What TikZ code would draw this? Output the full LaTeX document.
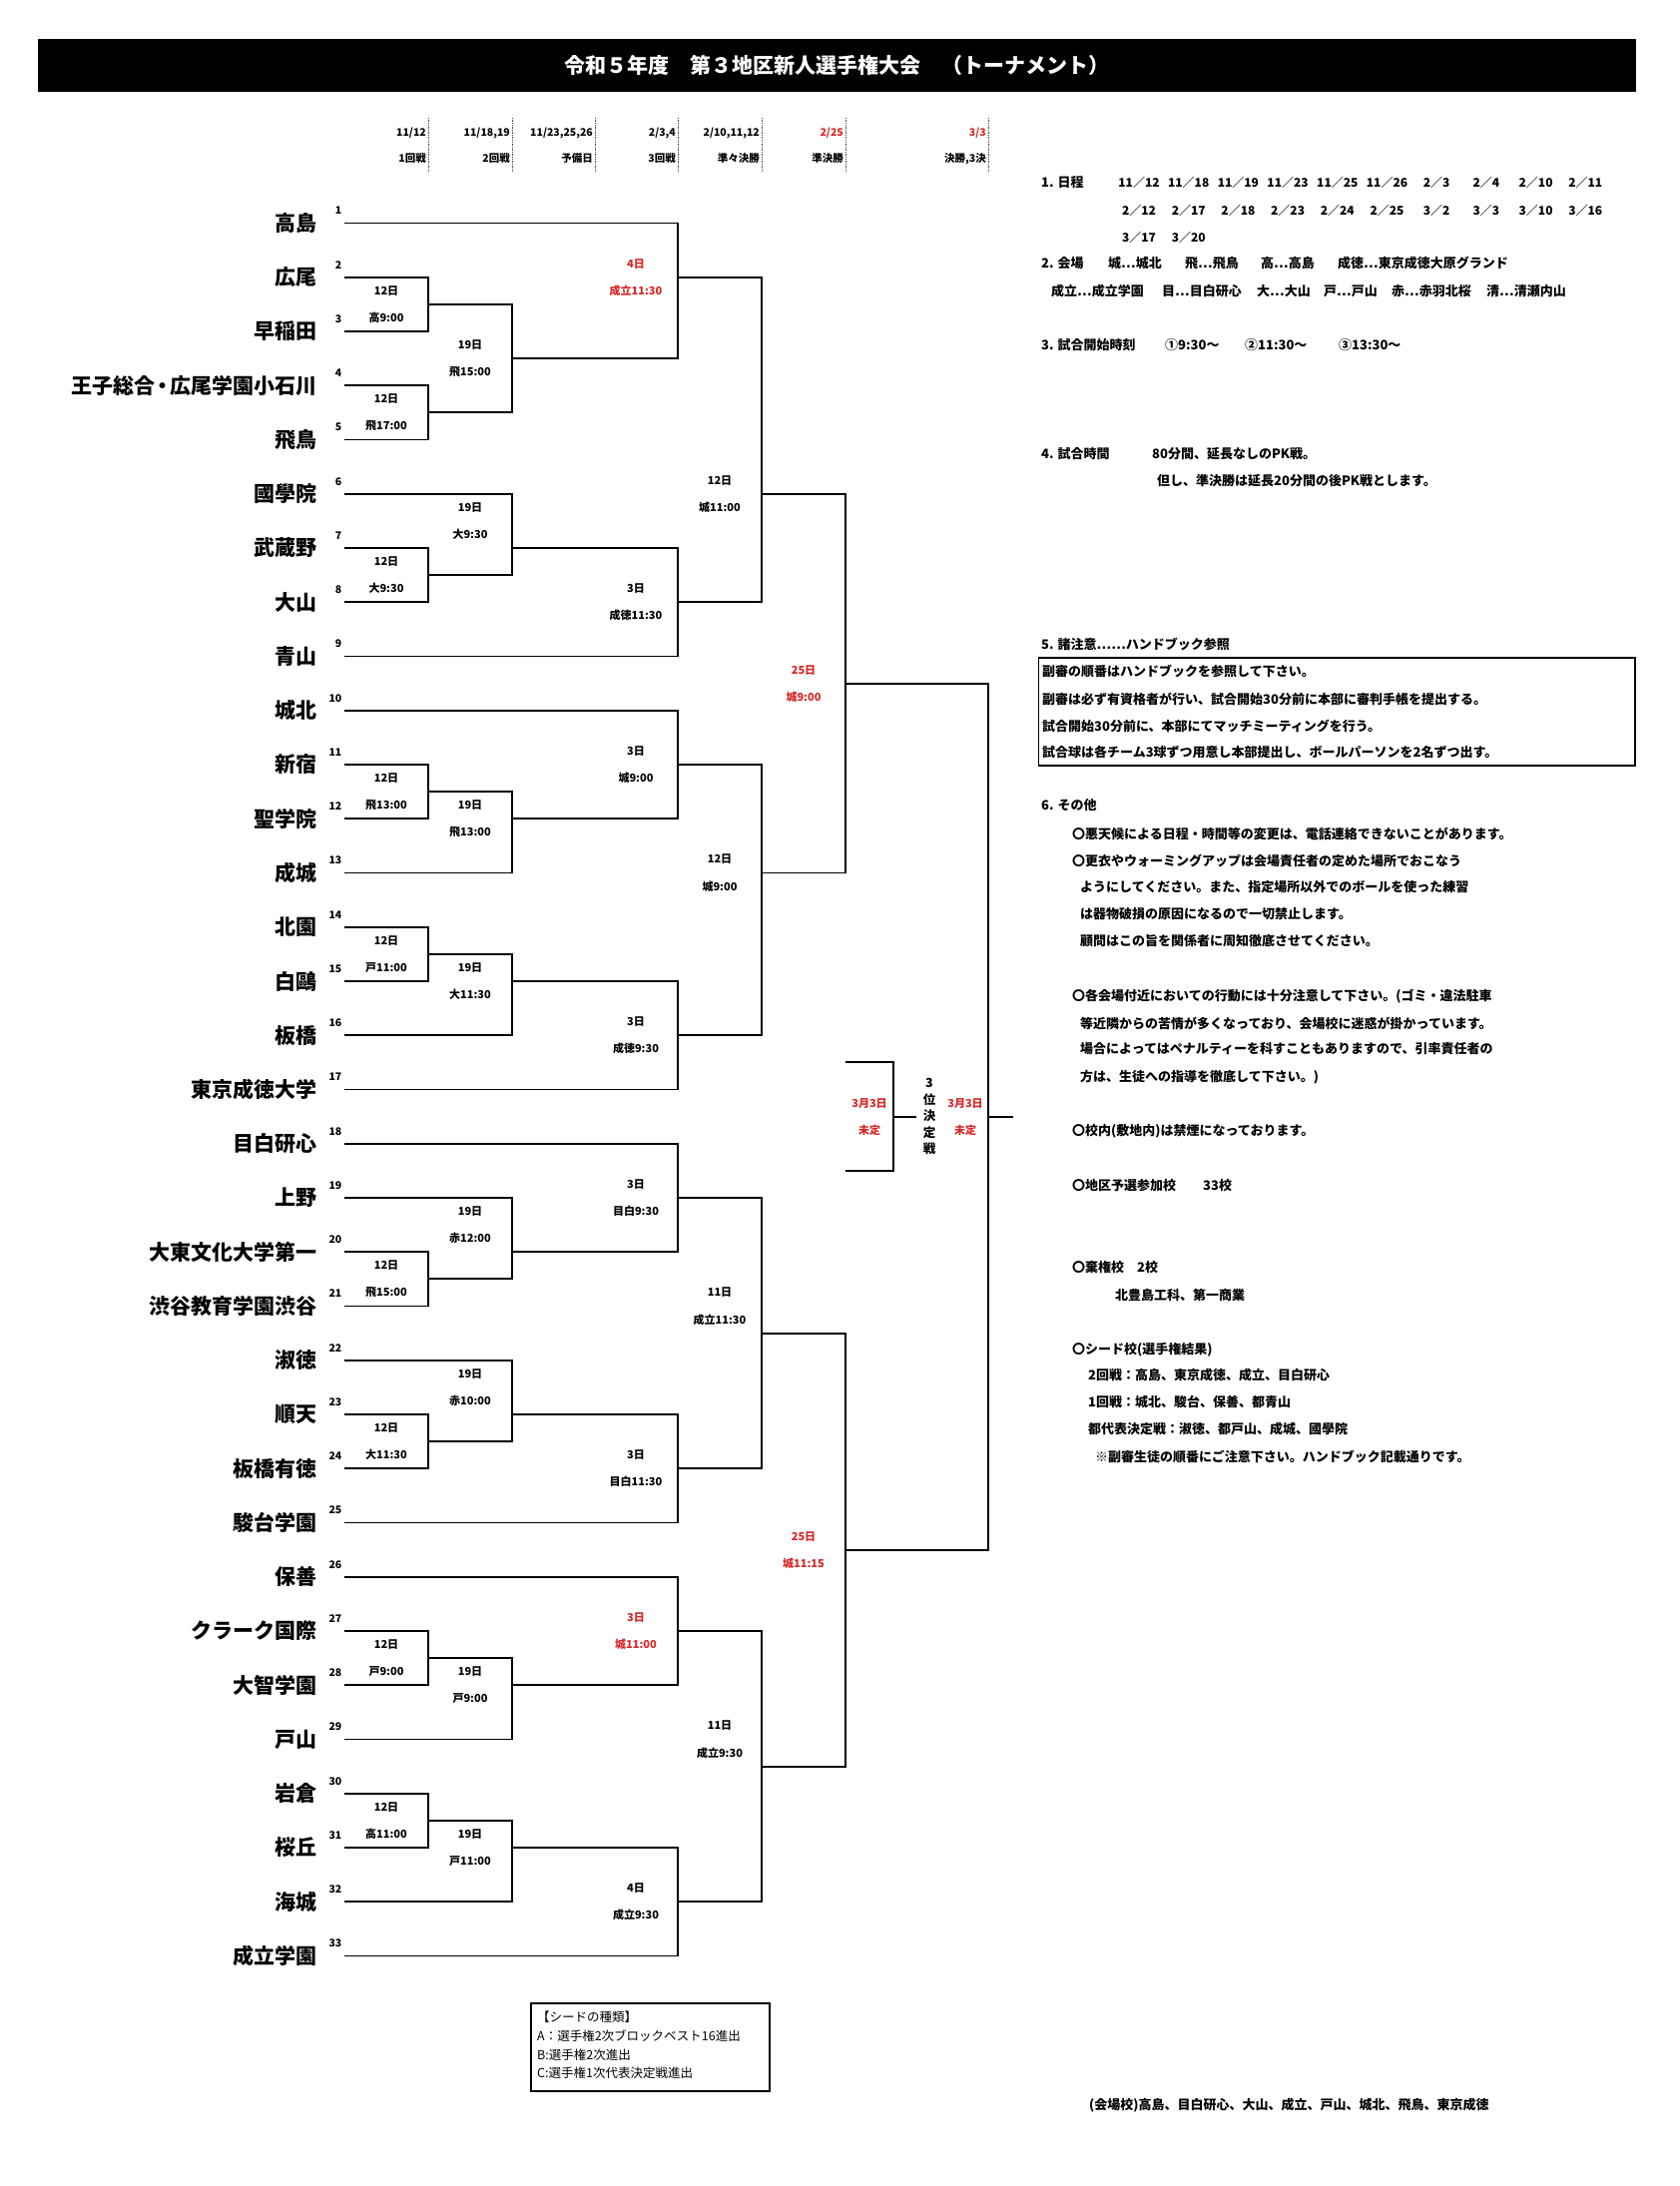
\documentclass[tikz,border=0pt]{standalone}
\usepackage{fontspec}
\setmainfont{Noto Sans CJK JP}
\definecolor{rd}{RGB}{216,38,38}
\pgfmathdeclarefunction{ry}{1}{\pgfmathparse{223.5+(#1-1)*54.25}}
\newcounter{lbc}
\tikzset{
  br/.style={line width=1.9pt, line join=miter},
  team/.style={anchor=east, inner sep=0pt, font=\bfseries\fontsize{21}{21}\selectfont},
  num/.style={anchor=east, inner sep=0pt, font=\bfseries\fontsize{10.5}{10.5}\selectfont},
  lab/.style={inner sep=0pt, font=\bfseries\fontsize{11}{11}\selectfont},
  hd/.style={anchor=east, inner sep=0pt, font=\bfseries\fontsize{10.5}{10.5}\selectfont},
  tx/.style={anchor=west, inner sep=0pt, font=\bfseries\fontsize{13}{13}\selectfont},
  dt/.style={inner sep=0pt, font=\bfseries\fontsize{12}{12}\selectfont},
  sd/.style={anchor=west, inner sep=0pt, font=\fontsize{12.5}{12.5}\selectfont},
  dots/.style={densely dotted, line width=0.7pt, black!70}
}
% match bracket: top start x, top row, bottom start x, bottom row, vertical x
\newcommand\mt[5]{\draw[br] (#1,{ry(#2)}) -- (#5,{ry(#2)}) -- (#5,{ry(#4)}) -- (#3,{ry(#4)});}
% two-line match label: x, row, line1, line2, colour
\newcommand\lb[5]{\stepcounter{lbc}%
  \node[lab,text=#5] (lb\thelbc a) at (#1,{ry(#2)-13.5}) {#3};
  \node[lab,text=#5] (lb\thelbc b) at (#1,{ry(#2)+13.5}) {#4};}
\begin{document}
\begin{tikzpicture}[x=1pt,y=-1pt]
\useasboundingbox (0,0) rectangle (1683,2190);
\fill[white] (0,0) rectangle (1683,2190);

% title bar
\node[fill=black, minimum width=1601pt, minimum height=53pt, inner sep=0pt, anchor=north west] (bar) at (38,39) {};
\node[text=white, inner sep=0pt, font=\bfseries\fontsize{21}{21}\selectfont] (title) at (bar.center) {令和５年度　第３地区新人選手権大会　（トーナメント）};

% header columns
\foreach \x in {429,513,596,679,763,847,990} \draw[dots] (\x,118) -- (\x,172);
\node[hd] (d1) at (427,133) {11/12};
\node[hd] (d2) at (511,133) {11/18,19};
\node[hd] (d3) at (594,133) {11/23,25,26};
\node[hd] (d4) at (677,133) {2/3,4};
\node[hd] (d5) at (761,133) {2/10,11,12};
\node[hd,text=rd] (d6) at (845,133) {2/25};
\node[hd,text=rd] (d7) at (988,133) {3/3};
\node[hd] (r1) at (427,159) {1回戦};
\node[hd] (r2) at (511,159) {2回戦};
\node[hd] (r3) at (594,159) {予備日};
\node[hd] (r4) at (677,159) {3回戦};
\node[hd] (r5) at (761,159) {準々決勝};
\node[hd] (r6) at (845,159) {準決勝};
\node[hd] (r7) at (988,159) {決勝,3決};

% teams
\foreach \nm [count=\i] in {高島,広尾,早稲田,{王子総合\kern-3pt・\kern-3pt広尾学園小石川},飛鳥,國學院,武蔵野,大山,青山,城北,新宿,聖学院,成城,北園,白鷗,板橋,東京成徳大学,目白研心,上野,大東文化大学第一,渋谷教育学園渋谷,淑徳,順天,板橋有徳,駿台学園,保善,クラーク国際,大智学園,戸山,岩倉,桜丘,海城,成立学園}{
  \node[team] (n\i) at (318,{ry(\i)}) {\nm};
  \node[num] (k\i) at (342.5,{ry(\i)-12.5}) {\i};
}

% round 1 (x=429)
\mt{345}{2}{345}{3}{429}
\mt{345}{4}{345}{5}{429}
\mt{345}{7}{345}{8}{429}
\mt{345}{11}{345}{12}{429}
\mt{345}{14}{345}{15}{429}
\mt{345}{20}{345}{21}{429}
\mt{345}{23}{345}{24}{429}
\mt{345}{27}{345}{28}{429}
\mt{345}{30}{345}{31}{429}
% round 2 (x=513)
\mt{429}{2.5}{429}{4.5}{513}
\mt{345}{6}{429}{7.5}{513}
\mt{429}{11.5}{345}{13}{513}
\mt{429}{14.5}{345}{16}{513}
\mt{345}{19}{429}{20.5}{513}
\mt{345}{22}{429}{23.5}{513}
\mt{429}{27.5}{345}{29}{513}
\mt{429}{30.5}{345}{32}{513}
% round 3 (x=679)
\mt{345}{1}{513}{3.5}{679}
\mt{513}{7}{345}{9}{679}
\mt{345}{10}{513}{12}{679}
\mt{513}{15}{345}{17}{679}
\mt{345}{18}{513}{20}{679}
\mt{513}{23}{345}{25}{679}
\mt{345}{26}{513}{28}{679}
\mt{513}{31}{345}{33}{679}
% quarter finals (x=763)
\mt{679}{2}{679}{8}{763}
\mt{679}{11}{679}{16}{763}
\mt{679}{19}{679}{24}{763}
\mt{679}{27}{679}{32}{763}
% semi finals (x=847)
\mt{763}{6}{763}{13}{847}
\mt{763}{21.5}{763}{29.5}{847}
% final (x=990)
\mt{847}{9.5}{847}{25.5}{990}
\coordinate (fin) at (990,{ry(17.5)});
\coordinate (finend) at (1015,{ry(17.5)});
\draw[br] (fin) -- (finend);
% third place
\mt{847}{16.5}{847}{18.5}{895}
\coordinate (thr) at (895,{ry(17.5)});
\coordinate (thrend) at (918,{ry(17.5)});
\draw[br] (thr) -- (thrend);

% labels round 1
\lb{387}{2.5}{12日}{高9:00}{black}
\lb{387}{4.5}{12日}{飛17:00}{black}
\lb{387}{7.5}{12日}{大9:30}{black}
\lb{387}{11.5}{12日}{飛13:00}{black}
\lb{387}{14.5}{12日}{戸11:00}{black}
\lb{387}{20.5}{12日}{飛15:00}{black}
\lb{387}{23.5}{12日}{大11:30}{black}
\lb{387}{27.5}{12日}{戸9:00}{black}
\lb{387}{30.5}{12日}{高11:00}{black}
% round 2
\lb{471}{3.5}{19日}{飛15:00}{black}
\lb{471}{6.5}{19日}{大9:30}{black}
\lb{471}{12}{19日}{飛13:00}{black}
\lb{471}{15}{19日}{大11:30}{black}
\lb{471}{19.5}{19日}{赤12:00}{black}
\lb{471}{22.5}{19日}{赤10:00}{black}
\lb{471}{28}{19日}{戸9:00}{black}
\lb{471}{31}{19日}{戸11:00}{black}
% round 3
\lb{637}{2}{4日}{成立11:30}{rd}
\lb{637}{8}{3日}{成徳11:30}{black}
\lb{637}{11}{3日}{城9:00}{black}
\lb{637}{16}{3日}{成徳9:30}{black}
\lb{637}{19}{3日}{目白9:30}{black}
\lb{637}{24}{3日}{目白11:30}{black}
\lb{637}{27}{3日}{城11:00}{rd}
\lb{637}{32}{4日}{成立9:30}{black}
% quarter finals
\lb{721}{6}{12日}{城11:00}{black}
\lb{721}{13}{12日}{城9:00}{black}
\lb{721}{21}{11日}{成立11:30}{black}
\lb{721}{29}{11日}{成立9:30}{black}
% semi finals
\lb{805}{9.5}{25日}{城9:00}{rd}
\lb{805}{25.5}{25日}{城11:15}{rd}
% third place / final
\lb{871}{17.5}{3月3日}{未定}{rd}
\lb{967}{17.5}{3月3日}{未定}{rd}
\node[inner sep=0pt, align=center, font=\bfseries\fontsize{12.5}{16.5}\selectfont] (third) at (931,{ry(17.5)}) {3\\位\\決\\定\\戦};

% right panel
\node[tx] (s1) at (1043,183) {1. 日程};
\foreach \d [count=\k from 0] in {11／12,11／18,11／19,11／23,11／25,11／26,2／3,2／4,2／10,2／11}
  \node[dt] (da\k) at ({1141+\k*49.7},183) {\d};
\foreach \d [count=\k from 0] in {2／12,2／17,2／18,2／23,2／24,2／25,3／2,3／3,3／10,3／16}
  \node[dt] (db\k) at ({1141+\k*49.7},211) {\d};
\foreach \d [count=\k from 0] in {3／17,3／20}
  \node[dt] (dc\k) at ({1141+\k*49.7},237.5) {\d};

\node[tx] (s2) at (1043,264) {2. 会場};
\node[tx] (v1) at (1110,264) {城…城北};
\node[tx] (v2) at (1187,264) {飛…飛鳥};
\node[tx] (v3) at (1263,264) {高…高島};
\node[tx] (v4) at (1340,264) {成徳…東京成徳大原グランド};
\node[tx] (v5) at (1053,292) {成立…成立学園};
\node[tx] (v6) at (1164,292) {目…目白研心};
\node[tx] (v7) at (1259,292) {大…大山};
\node[tx] (v8) at (1326,292) {戸…戸山};
\node[tx] (v9) at (1394,292) {赤…赤羽北桜};
\node[tx] (v10) at (1489,292) {清…清瀬内山};

\node[tx] (s3) at (1043,346) {3. 試合開始時刻};
\node[tx] (t1) at (1167,346) {①9:30～};
\node[tx] (t2) at (1247,346) {②11:30～};
\node[tx] (t3) at (1341,346) {③13:30～};

\node[tx] (s4) at (1043,455) {4. 試合時間};
\node[tx] (s4a) at (1154,455) {80分間、延長なしのPK戦。};
\node[tx] (s4b) at (1159,482) {但し、準決勝は延長20分間の後PK戦とします。};

\node[tx] (s5) at (1043,645) {5. 諸注意……ハンドブック参照};
\draw[line width=1.2pt] (1040.5,659) rectangle (1638,767);
\node[tx] (b1) at (1044,672.5) {副審の順番はハンドブックを参照して下さい。};
\node[tx] (b2) at (1044,700) {副審は必ず有資格者が行い、試合開始30分前に本部に審判手帳を提出する。};
\node[tx] (b3) at (1044,727) {試合開始30分前に、本部にてマッチミーティングを行う。};
\node[tx] (b4) at (1044,754) {試合球は各チーム3球ずつ用意し本部提出し、ボールパーソンを2名ずつ出す。};

\node[tx] (s6) at (1043,807) {6. その他};
\node[tx] (o1) at (1074,835) {〇悪天候による日程・時間等の変更は、電話連絡できないことがあります。};
\node[tx] (o2) at (1074,862) {〇更衣やウォーミングアップは会場責任者の定めた場所でおこなう};
\node[tx] (o3) at (1082,889) {ようにしてください。また、指定場所以外でのボールを使った練習};
\node[tx] (o4) at (1082,916) {は器物破損の原因になるので一切禁止します。};
\node[tx] (o5) at (1082,943) {顧問はこの旨を関係者に周知徹底させてください。};
\node[tx] (o6) at (1074,998) {〇各会場付近においての行動には十分注意して下さい。(ゴミ・違法駐車};
\node[tx] (o7) at (1082,1025) {等近隣からの苦情が多くなっており、会場校に迷惑が掛かっています。};
\node[tx] (o8) at (1082,1051) {場合によってはペナルティーを科すこともありますので、引率責任者の};
\node[tx] (o9) at (1082,1079) {方は、生徒への指導を徹底して下さい。)};
\node[tx] (o10) at (1074,1133) {〇校内(敷地内)は禁煙になっております。};
\node[tx] (o11) at (1074,1188) {〇地区予選参加校};
\node[tx] (o11b) at (1205,1188) {33校};
\node[tx] (o12) at (1074,1270) {〇棄権校};
\node[tx] (o12b) at (1139,1270) {2校};
\node[tx] (o13) at (1117,1297) {北豊島工科、第一商業};
\node[tx] (o14) at (1074,1352) {〇シード校(選手権結果)};
\node[tx] (o15) at (1090,1378) {2回戦：高島、東京成徳、成立、目白研心};
\node[tx] (o16) at (1090,1405) {1回戦：城北、駿台、保善、都青山};
\node[tx] (o17) at (1090,1432) {都代表決定戦：淑徳、都戸山、成城、國學院};
\node[tx] (o18) at (1097,1459) {※副審生徒の順番にご注意下さい。ハンドブック記載通りです。};

% seed legend
\draw[line width=1.3pt] (532,2007) rectangle (771,2095);
\node[sd] (g1) at (538,2021) {【シードの種類】};
\node[sd] (g2) at (538,2040) {A：選手権2次ブロックベスト16進出};
\node[sd] (g3) at (538,2059) {B:選手権2次進出};
\node[sd] (g4) at (538,2077) {C:選手権1次代表決定戦進出};

\node[tx] (venue) at (1091,2109) {(会場校)高島、目白研心、大山、成立、戸山、城北、飛鳥、東京成徳};
\end{tikzpicture}
\end{document}
